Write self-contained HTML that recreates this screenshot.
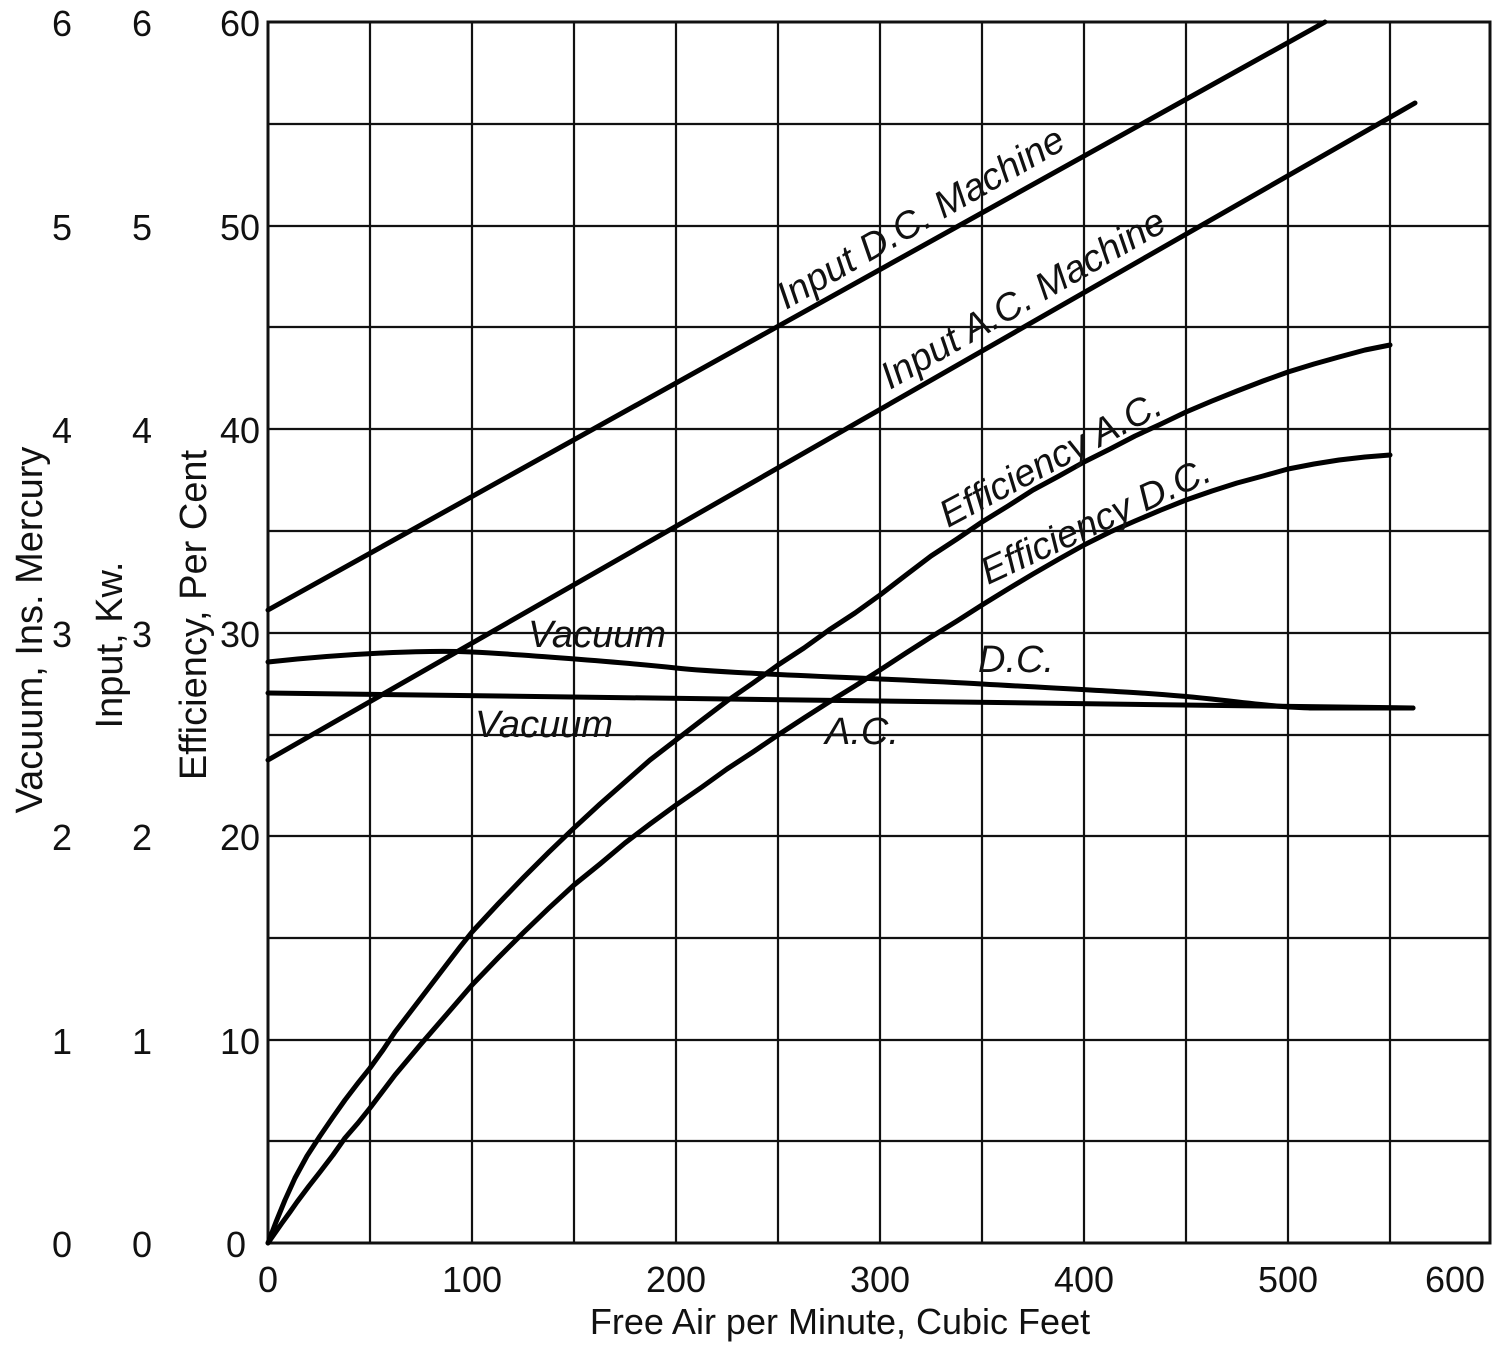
<!DOCTYPE html>
<html><head><meta charset="utf-8"><style>
html,body{margin:0;padding:0;background:#fff;}
svg text{font-family:"Liberation Sans",sans-serif;fill:#111;}
</style></head><body>
<svg width="1500" height="1353" viewBox="0 0 1500 1353" xmlns="http://www.w3.org/2000/svg">
<rect width="1500" height="1353" fill="#fff"/>
<g stroke="#111" stroke-width="2.2" fill="none">
<rect x="268" y="22" width="1222" height="1221" stroke-width="3"/>
<path d="M370 22V1243M472 22V1243M574 22V1243M676 22V1243M778 22V1243M880 22V1243M982 22V1243M1084 22V1243M1186 22V1243M1288 22V1243M1390 22V1243"/>
<path d="M268 124H1490M268 226H1490M268 327H1490M268 429H1490M268 531H1490M268 633H1490M268 735H1490M268 836H1490M268 938H1490M268 1040H1490M268 1141H1490"/>
</g>
<g stroke="#000" stroke-width="5" fill="none" stroke-linecap="round" stroke-linejoin="round">
<path d="M268 610L1325 22"/>
<path d="M268 760L1415 103"/>
<polyline points="268,1243 276,1222 285,1200 295,1178 307,1156 320,1136 333,1117 345,1100 358,1083 370,1068 383,1050 395,1032 408,1015 421,998 434,981 447,964 460,947 472,932 498,904 523,878 549,852 574,828 600,804 625,782 650,760 676,740 702,720 727,701 753,683 778,665 804,648 829,630 855,613 880,595 906,575 931,556 957,539 982,522 1008,506 1033,490 1059,476 1084,462 1110,449 1135,436 1161,424 1186,412 1212,401 1237,391 1263,381 1288,372 1314,364 1339,357 1365,350 1390,345"/>
<polyline points="268,1243 275,1233 282,1223 290,1212 297,1202 309,1186 320,1172 333,1155 345,1138 358,1123 370,1108 395,1075 421,1044 447,1014 472,985 498,958 523,933 549,908 574,885 600,864 625,843 650,824 676,805 702,787 727,769 753,752 778,735 804,718 829,702 855,686 880,670 906,653 931,637 957,621 982,605 1008,589 1033,574 1059,559 1084,545 1110,532 1135,521 1161,510 1186,500 1212,491 1237,483 1263,476 1288,469 1314,464 1339,460 1365,457 1390,455"/>
<path d="M268 662C350 653 430 650 472 652S620 662 676 668S880 678 982 684S1150 692 1220 700S1288 707 1310 708L1413 708"/>
<path d="M268 693C600 698 1000 703 1413 708"/>
</g>
<g font-size="36" text-anchor="middle">
<text x="268" y="1292">0</text><text x="472" y="1292">100</text><text x="676" y="1292">200</text><text x="880" y="1292">300</text><text x="1084" y="1292">400</text><text x="1288" y="1292">500</text><text x="1455" y="1292">600</text>
<text x="840" y="1334">Free Air per Minute, Cubic Feet</text>
</g>
<g font-size="36" text-anchor="middle">
<text x="240" y="36">60</text><text x="240" y="240">50</text><text x="240" y="443">40</text><text x="240" y="647">30</text><text x="240" y="850">20</text><text x="240" y="1054">10</text><text x="236" y="1257">0</text>
<text x="142" y="36">6</text><text x="142" y="240">5</text><text x="142" y="443">4</text><text x="142" y="647">3</text><text x="142" y="850">2</text><text x="142" y="1054">1</text><text x="142" y="1257">0</text>
<text x="62" y="36">6</text><text x="62" y="240">5</text><text x="62" y="443">4</text><text x="62" y="647">3</text><text x="62" y="850">2</text><text x="62" y="1054">1</text><text x="62" y="1257">0</text>
</g>
<g font-size="38" text-anchor="middle">
<text transform="translate(42,630) rotate(-90)">Vacuum, Ins. Mercury</text>
<text transform="translate(122,645) rotate(-90)">Input, Kw.</text>
<text transform="translate(206,615) rotate(-90)">Efficiency, Per Cent</text>
</g>
<g font-size="38" font-style="italic">
<text transform="translate(786,310) rotate(-30)">Input  D.C. Machine</text>
<text transform="translate(890,390) rotate(-30)">Input  A.C. Machine</text>
<text transform="translate(948,528) rotate(-28)">Efficiency   A.C.</text>
<text transform="translate(988,585) rotate(-25)">Efficiency  D.C.</text>
<text x="528" y="647">Vacuum</text>
<text x="475" y="737">Vacuum</text>
<text x="978" y="672">D.C.</text>
<text x="825" y="744">A.C.</text>
</g>
</svg>
</body></html>
